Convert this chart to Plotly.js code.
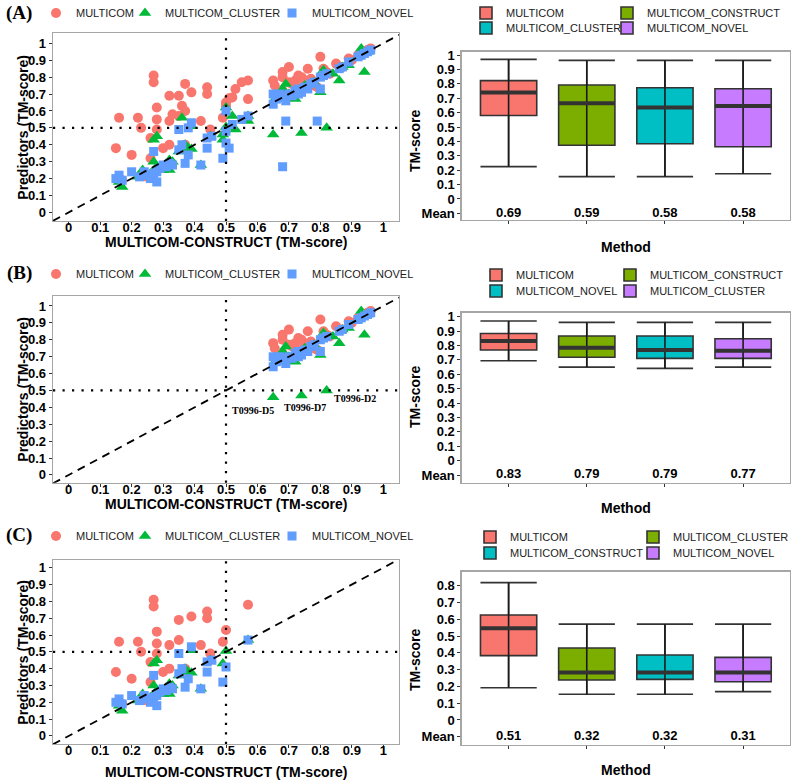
<!DOCTYPE html>
<html><head><meta charset="utf-8">
<script src="https://cdn.plot.ly/plotly-3.0.1.min.js"></script>
<style>html,body{margin:0;padding:0;background:#fff}#chart{width:800px;height:784px}</style>
</head><body><div id="chart"></div>
<script>
// ---------------- DATA ----------------
// Panel C: hard targets (MULTICOM-CONSTRUCT TM-score on x, predictor on y)
const cMulticomX = [0.15,0.16,0.20,0.22,0.23,0.26,0.26,0.27,0.27,0.28,0.28,0.28,0.30,0.32,0.32,0.35,0.35,0.37,0.39,0.42,0.44,0.44,0.45,0.49,0.50,0.57,0.17,0.25,0.29];
const cMulticomY = [0.38,0.56,0.34,0.56,0.50,0.44,0.32,0.81,0.77,0.62,0.55,0.49,0.38,0.54,0.40,0.69,0.57,0.40,0.71,0.54,0.74,0.70,0.49,0.56,0.63,0.78,0.19,0.21,0.26];
const cClusterX = [0.16,0.17,0.22,0.235,0.26,0.27,0.28,0.27,0.28,0.29,0.30,0.32,0.31,0.33,0.32,0.35,0.37,0.38,0.39,0.39,0.42,0.45,0.49,0.50,0.57];
const cClusterY = [0.18,0.15,0.21,0.25,0.23,0.43,0.45,0.30,0.27,0.25,0.25,0.25,0.28,0.30,0.31,0.36,0.40,0.38,0.375,0.51,0.28,0.45,0.43,0.505,0.57];
const cNovelX = [0.15,0.16,0.17,0.20,0.225,0.24,0.25,0.26,0.27,0.27,0.28,0.28,0.29,0.30,0.31,0.32,0.33,0.35,0.35,0.36,0.37,0.38,0.39,0.42,0.44,0.44,0.455,0.49,0.50,0.57];
const cNovelY = [0.20,0.22,0.19,0.24,0.21,0.24,0.22,0.20,0.36,0.23,0.18,0.24,0.26,0.28,0.27,0.29,0.28,0.49,0.37,0.40,0.29,0.34,0.53,0.28,0.38,0.44,0.45,0.32,0.41,0.57];

// Panel B: easy targets
const bMulticomX = [0.65,0.655,0.66,0.68,0.68,0.68,0.70,0.70,0.71,0.72,0.73,0.74,0.74,0.75,0.76,0.77,0.78,0.79,0.80,0.81,0.82,0.83,0.85,0.87,0.89,0.90,0.92,0.94,0.95,0.96];
const bMulticomY = [0.78,0.75,0.70,0.83,0.80,0.72,0.86,0.77,0.76,0.78,0.81,0.80,0.74,0.78,0.85,0.79,0.75,0.74,0.92,0.85,0.83,0.82,0.88,0.86,0.91,0.90,0.93,0.95,0.96,0.97];
const bClusterX = [0.65,0.74,0.82,0.66,0.68,0.68,0.69,0.70,0.72,0.75,0.77,0.78,0.80,0.81,0.84,0.86,0.87,0.89,0.92,0.93,0.94,0.95];
const bClusterY = [0.46,0.47,0.50,0.68,0.67,0.73,0.76,0.70,0.67,0.75,0.76,0.77,0.71,0.84,0.82,0.78,0.86,0.87,0.92,0.97,0.83,0.95];
const bNovelX = [0.65,0.65,0.66,0.67,0.68,0.69,0.70,0.71,0.72,0.73,0.73,0.74,0.75,0.76,0.77,0.78,0.80,0.80,0.81,0.82,0.86,0.87,0.89,0.92,0.93,0.94,0.95,0.96];
const bNovelY = [0.64,0.70,0.67,0.70,0.68,0.66,0.70,0.69,0.72,0.73,0.70,0.71,0.74,0.73,0.76,0.77,0.80,0.73,0.81,0.82,0.85,0.86,0.89,0.92,0.93,0.94,0.95,0.96];
// labelled MULTICOM_CLUSTER domains in panel B (first three cluster points)
const bLabels = ['T0996-D5','T0996-D7','T0996-D2'];

// Panel A: all targets = B + C + these further targets
const aExtraMulticomX = [0.32,0.33,0.36,0.37,0.37,0.50,0.51,0.52,0.53,0.55,0.57];
const aExtraMulticomY = [0.69,0.58,0.63,0.60,0.76,0.65,0.675,0.68,0.73,0.77,0.67];
const aExtraClusterX = [0.36,0.49,0.50,0.52,0.53,0.57];
const aExtraClusterY = [0.56,0.46,0.62,0.57,0.49,0.54];
const aExtraNovelX = [0.38,0.50,0.50,0.51,0.52,0.55,0.68,0.69,0.79];
const aExtraNovelY = [0.50,0.60,0.48,0.38,0.52,0.55,0.27,0.54,0.54];

// Box plot summaries (TM-score)
const boxNamesA = ['MULTICOM','MULTICOM_CONSTRUCT','MULTICOM_CLUSTER','MULTICOM_NOVEL'];
const boxLowA  = [0.225,0.155,0.155,0.175];
const boxQ1A   = [0.58,0.373,0.384,0.363];
const boxMedA  = [0.74,0.665,0.635,0.645];
const boxQ3A   = [0.822,0.792,0.773,0.766];
const boxHighA = [0.97,0.963,0.963,0.963];
const boxMeanA = [0.69,0.59,0.58,0.58];

const boxNamesB = ['MULTICOM','MULTICOM_CONSTRUCT','MULTICOM_NOVEL','MULTICOM_CLUSTER'];
const boxLowB  = [0.694,0.65,0.641,0.65];
const boxQ1B   = [0.769,0.718,0.711,0.711];
const boxMedB  = [0.831,0.785,0.769,0.764];
const boxQ3B   = [0.884,0.866,0.866,0.847];
const boxHighB = [0.97,0.961,0.961,0.961];
const boxMeanB = [0.83,0.79,0.79,0.77];

const boxNamesC = ['MULTICOM','MULTICOM_CLUSTER','MULTICOM_CONSTRUCT','MULTICOM_NOVEL'];
const boxLowC  = [0.192,0.153,0.153,0.169];
const boxQ1C   = [0.383,0.238,0.242,0.228];
const boxMedC  = [0.546,0.282,0.282,0.282];
const boxQ3C   = [0.625,0.429,0.387,0.373];
const boxHighC = [0.818,0.571,0.571,0.571];
const boxMeanC = [0.51,0.32,0.32,0.31];

// Tick labels
const scatterTickVals = [0,0.1,0.2,0.3,0.4,0.5,0.6,0.7,0.8,0.9,1];
const scatterTickText = ['0','0.1','0.2','0.3','0.4','0.5','0.6','0.7','0.8','0.9','1'];
const boxTickValsAB = [-0.1,0,0.1,0.2,0.3,0.4,0.5,0.6,0.7,0.8,0.9,1];
const boxTickTextAB = ['Mean','0','0.1','0.2','0.3','0.4','0.5','0.6','0.7','0.8','0.9','1'];
const boxTickValsC = [-0.1,0,0.1,0.2,0.3,0.4,0.5,0.6,0.7,0.8];
const boxTickTextC = ['Mean','0','0.1','0.2','0.3','0.4','0.5','0.6','0.7','0.8'];
const meanRow = -0.1;

// ---------------- STYLE / LAYOUT ----------------
const W = 800, H = 784;
const PX = v => v / W;
const PY = v => 1 - v / H;
const SANS = 'Liberation Sans, Arial, Helvetica, sans-serif';
const SERIF = 'Liberation Serif, Times New Roman, serif';

// legendwidth: px given to each legend entry's text (entries pack tightly like the original)
const seriesStyle = [
  {name:'MULTICOM', symbol:'circle', color:'#F8766D', size:10, lw:44},
  {name:'MULTICOM_CLUSTER', symbol:'triangle-up', color:'#00BA38', size:11, lw:102},
  {name:'MULTICOM_NOVEL', symbol:'square', color:'#619CFF', size:9, lw:104}
];
const boxColors = ['#F8766D','#7CAE00','#00BFC4','#C77CFF'];

const traces = [];
const sfx = n => (n === 1 ? '' : String(n));

function addScatter(series, n, legendId) {
  series.forEach((s, i) => {
    const st = seriesStyle[i];
    traces.push({
      type:'scatter', mode:'markers', x:s.x, y:s.y, name:st.name,
      marker:{symbol:st.symbol, color:st.color, size:st.size, line:{width:0}},
      xaxis:'x'+sfx(n), yaxis:'y'+sfx(n), legend:legendId, legendwidth:st.lw, cliponaxis:true
    });
  });
}

function addBox(names, lo, q1, med, q3, hi, mean, n, legRow1, legRow2, colW, col2W) {
  const xa = 'x'+sfx(n), ya = 'y'+sfx(n);
  names.forEach((nm, i) => {
    traces.push({
      type:'box', name:nm, x:[i], q1:[q1[i]], median:[med[i]], q3:[q3[i]],
      lowerfence:[lo[i]], upperfence:[hi[i]], width:0.72, whiskerwidth:1,
      fillcolor:boxColors[i], line:{color:'#333333', width:1.6}, boxpoints:false,
      xaxis:xa, yaxis:ya, legend: i < 2 ? legRow1 : legRow2,
      legendwidth: i % 2 === 0 ? colW : col2W
    });
  });
  const wx = [], wy = [], mx = [], my = [];
  names.forEach((nm, i) => {
    wx.push(i, i, null); wy.push(lo[i], hi[i], null);
    mx.push(i - 0.36, i + 0.36, null); my.push(med[i], med[i], null);
  });
  traces.push({type:'scatter', mode:'lines', x:wx, y:wy, line:{color:'#1a1a1a', width:1.6},
    showlegend:false, hoverinfo:'skip', xaxis:xa, yaxis:ya});
  traces.push({type:'scatter', mode:'lines', x:mx, y:my, line:{color:'#333333', width:4},
    showlegend:false, hoverinfo:'skip', xaxis:xa, yaxis:ya});
  traces.push({type:'scatter', mode:'text', x:names.map((_, i) => i), y:names.map(() => meanRow),
    text:mean.map(v => v.toFixed(2)), textposition:'middle center',
    textfont:{family:SANS, size:13, color:'#000', weight:'bold'},
    showlegend:false, hoverinfo:'skip', cliponaxis:false, xaxis:xa, yaxis:ya});
}

const cat = (...arrs) => [].concat(...arrs);

// Panel A scatter (subplot 1)
addScatter([
  {x:cat(bMulticomX, cMulticomX, aExtraMulticomX), y:cat(bMulticomY, cMulticomY, aExtraMulticomY)},
  {x:cat(bClusterX, cClusterX, aExtraClusterX), y:cat(bClusterY, cClusterY, aExtraClusterY)},
  {x:cat(bNovelX, cNovelX, aExtraNovelX), y:cat(bNovelY, cNovelY, aExtraNovelY)}
], 1, 'legend');
addBox(boxNamesA, boxLowA, boxQ1A, boxMedA, boxQ3A, boxHighA, boxMeanA, 2, 'legend2', 'legend3', 96, 132);
// Panel B
addScatter([
  {x:bMulticomX, y:bMulticomY}, {x:bClusterX, y:bClusterY}, {x:bNovelX, y:bNovelY}
], 3, 'legend4');
addBox(boxNamesB, boxLowB, boxQ1B, boxMedB, boxQ3B, boxHighB, boxMeanB, 4, 'legend5', 'legend6', 89, 132);
// Panel C
addScatter([
  {x:cMulticomX, y:cMulticomY}, {x:cClusterX, y:cClusterY}, {x:cNovelX, y:cNovelY}
], 5, 'legend7');
addBox(boxNamesC, boxLowC, boxQ1C, boxMedC, boxQ3C, boxHighC, boxMeanC, 6, 'legend8', 'legend9', 118, 116);

const axisCommon = {
  showline:true, mirror:true, linecolor:'#a6a6a6', linewidth:1.3,
  ticks:'outside', ticklen:3, tickwidth:1, tickcolor:'#333',
  showgrid:false, zeroline:false, fixedrange:true,
  tickfont:{family:SANS, size:13, color:'#000', weight:'bold'}
};

const layout = {
  width:W, height:H, margin:{l:0, r:0, t:0, b:0, autoexpand:false},
  paper_bgcolor:'#fff', plot_bgcolor:'#fff', showlegend:true,
  font:{family:SANS, color:'#000'}, shapes:[], annotations:[]
};

// scatter panels: [subplot n, top px, bottom px, yRange]
const scatterPanels = [[1, 33, 221, [-0.051, 1.061]], [3, 296, 482.7, [-0.046, 1.059]], [5, 560, 744, [-0.048, 1.046]]];
scatterPanels.forEach(([n, top, bot, yr]) => {
  const s = sfx(n);
  layout['xaxis'+s] = Object.assign({}, axisCommon, {domain:[PX(53), PX(399)], range:[-0.05, 1.05], anchor:'y'+s,
    tickmode:'array', tickvals:scatterTickVals, ticktext:scatterTickText, ticklabelstandoff:-9});
  layout['yaxis'+s] = Object.assign({}, axisCommon, {domain:[PY(bot), PY(top)], range:yr, anchor:'x'+s,
    tickmode:'array', tickvals:scatterTickVals, ticktext:scatterTickText});
  layout.shapes.push({type:'line', xref:'x'+s, yref:'y'+s, x0:-0.05, y0:-0.05, x1:1.05, y1:1.05,
    line:{color:'#000', width:1.8, dash:'8px,6px'}, layer:'above'});
  layout.shapes.push({type:'line', xref:'x'+s, yref:'y'+s+' domain', x0:0.5, x1:0.5, y0:0, y1:1,
    line:{color:'#000', width:2.2, dash:'2.2px,7.3px'}, layer:'above'});
  layout.shapes.push({type:'line', xref:'x'+s+' domain', yref:'y'+s, x0:0, x1:1, y0:0.5, y1:0.5,
    line:{color:'#000', width:2.2, dash:'2.2px,7.3px'}, layer:'above'});
});

// box panels: [subplot n, top px, bottom px, yRange, tickvals, ticktext]
const boxPanels = [[2, 51.7, 220, [-0.146, 1.023], boxTickValsAB, boxTickTextAB],
                   [4, 312.7, 482.7, [-0.153, 1.028], boxTickValsAB, boxTickTextAB],
                   [6, 571.7, 745, [-0.149, 0.883], boxTickValsC, boxTickTextC]];
boxPanels.forEach(([n, top, bot, yr, tv, tt]) => {
  const s = sfx(n);
  layout['xaxis'+s] = Object.assign({}, axisCommon, {domain:[PX(461.7), PX(790)], range:[-0.6, 3.6], anchor:'y'+s,
    tickmode:'array', tickvals:[0,1,2,3], showticklabels:false});
  layout['yaxis'+s] = Object.assign({}, axisCommon, {domain:[PY(bot), PY(top)], range:yr, anchor:'x'+s,
    tickmode:'array', tickvals:tv, ticktext:tt});
});

// legends
const legFont = {family:SANS, size:11, color:'#222'};
function leg(xpx, ypx) {
  return {orientation:'h', x:PX(xpx), y:PY(ypx), xanchor:'left', yanchor:'middle', font:legFont,
    bgcolor:'rgba(0,0,0,0)', itemwidth:30, tracegroupgap:0, itemclick:false, itemdoubleclick:false};
}
layout.legend  = leg(36, 13);
layout.legend2 = leg(466, 13);
layout.legend3 = leg(466, 28);
layout.legend4 = leg(36, 274);
layout.legend5 = leg(476, 275);
layout.legend6 = leg(476, 291);
layout.legend7 = leg(36, 536);
layout.legend8 = leg(470, 537);
layout.legend9 = leg(470, 553);

// annotations: panel labels, axis titles, domain labels
const ann = layout.annotations;
function txt(text, xpx, ypx, size, opts) {
  ann.push(Object.assign({text:text, x:PX(xpx), y:PY(ypx), xref:'paper', yref:'paper', showarrow:false,
    xanchor:'center', yanchor:'middle', font:{family:SANS, size:size, color:'#000', weight:'bold'}}, opts || {}));
}
[['(A)', 13], ['(B)', 273], ['(C)', 535]].forEach(([t, y]) =>
  txt(t, 19, y, 19, {font:{family:SERIF, size:19, color:'#000', weight:'bold'}}));
[[242, 127], [504, 389], [772, 652]].forEach(([xt, yc]) => {
  txt('MULTICOM-CONSTRUCT (TM-score)', 226, xt, 14);
  txt('Predictors (TM-score)', 22.7, yc, 14, {textangle:-90});
});
[[247, 141], [508, 397], [770, 660]].forEach(([mt, yc]) => {
  txt('Method', 626, mt, 14);
  txt('TM-score', 415, yc, 14, {textangle:-90});
});
const labelShift = [[-20, -13], [4, -12], [28, -8]];
bLabels.forEach((lab, i) => {
  ann.push({text:lab, x:bClusterX[i], y:bClusterY[i], xref:'x3', yref:'y3', showarrow:false,
    xshift:labelShift[i][0], yshift:labelShift[i][1], xanchor:'center', yanchor:'middle',
    font:{family:SERIF, size:10, color:'#000', weight:'bold'}});
});

Plotly.newPlot('chart', traces, layout, {staticPlot:true, displayModeBar:false});
</script>
</body></html>
